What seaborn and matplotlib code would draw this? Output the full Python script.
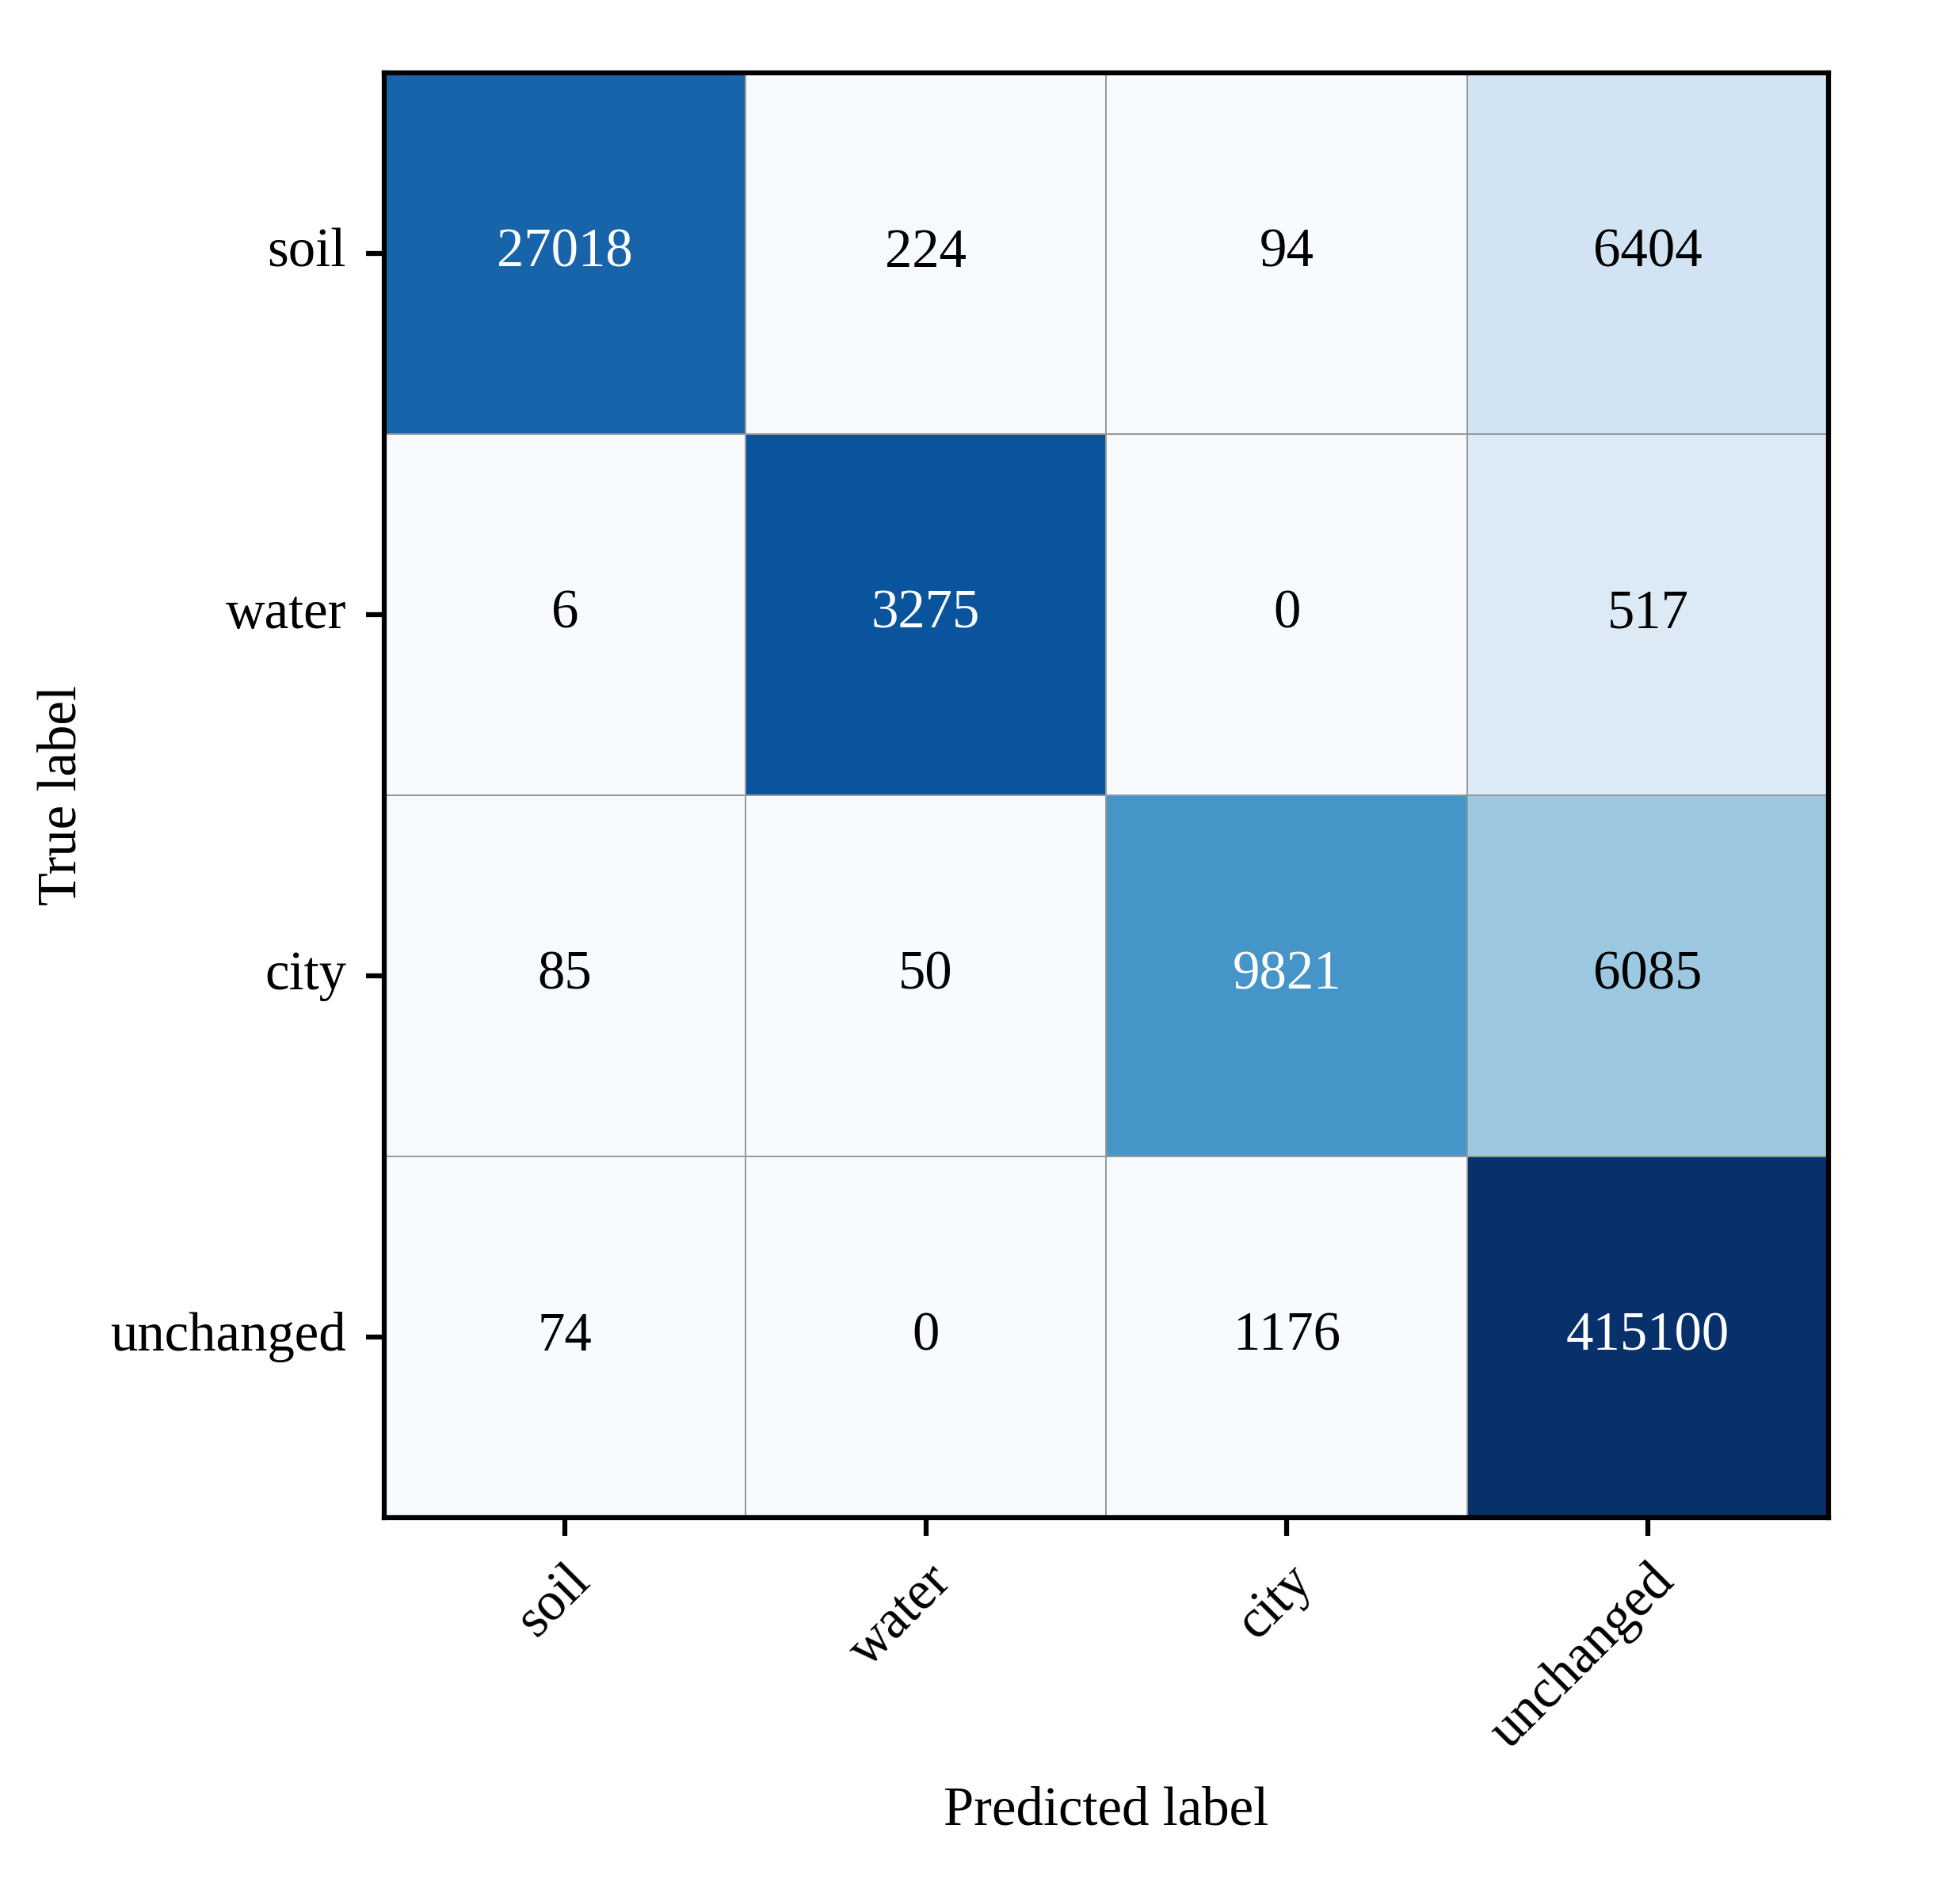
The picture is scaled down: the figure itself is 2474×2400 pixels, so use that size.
import numpy as np
import pandas as pd
import matplotlib
matplotlib.use("Agg")
import matplotlib.pyplot as plt
import seaborn as sns

classes = ["soil", "water", "city", "unchanged"]
row_soil = [27018, 224, 94, 6404]
row_water = [6, 3275, 0, 517]
row_city = [85, 50, 9821, 6085]
row_unchanged = [74, 0, 1176, 415100]

counts = np.array([row_soil, row_water, row_city, row_unchanged])
norm = counts / counts.sum(axis=1, keepdims=True)
df_norm = pd.DataFrame(norm, index=classes, columns=classes)
df_counts = pd.DataFrame(counts, index=classes, columns=classes)

plt.rcParams['font.family'] = ['Liberation Serif', 'DejaVu Serif']
plt.rcParams['font.size'] = 16.5

fig = plt.figure(figsize=(2474 / 300, 8), dpi=300)
ax = fig.add_axes([0.196, 0.2017, 0.7369, 0.760])

sns.heatmap(df_norm, annot=df_counts, fmt="d", cmap="Blues", vmin=0, vmax=1,
            cbar=False, linewidths=0.4, linecolor="#999999", square=False,
            annot_kws={"fontsize": 16.5}, ax=ax)

for t in ax.texts:
    if t.get_color() not in ("w", "white"):
        t.set_color("black")

for s in ax.spines.values():
    s.set_visible(True)
    s.set_linewidth(1.5)
    s.set_color("black")

ax.tick_params(axis="both", which="major", length=5.5, width=1.5, direction="out",
               labelsize=16.5, color="black", pad=6)
ax.set_yticklabels(classes, rotation=0)
ax.set_xticklabels(classes)
plt.setp(ax.get_xticklabels(), rotation=45, ha="right", rotation_mode="anchor")

ax.set_xlabel("Predicted label", fontsize=16.5, labelpad=8.5)
ax.set_ylabel("True label", fontsize=16.5, labelpad=7)

fig.savefig("out.png", dpi=300)
